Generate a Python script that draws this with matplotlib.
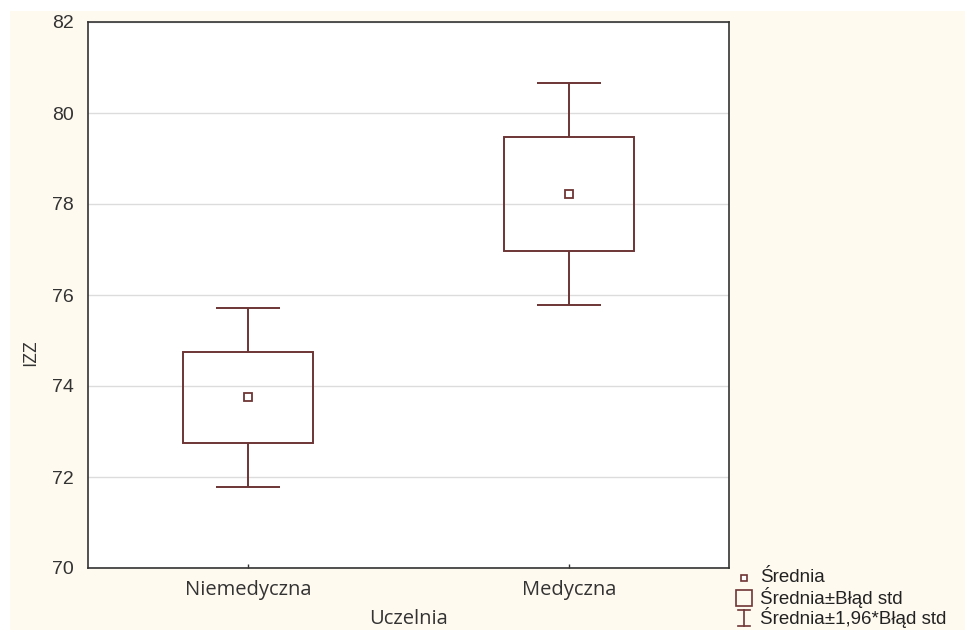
import matplotlib
matplotlib.use("Agg")
import matplotlib.pyplot as plt
from matplotlib.patches import Rectangle
from matplotlib.lines import Line2D

categories = ["Niemedyczna", "Medyczna"]
means = [73.75, 78.22]
se = [1.0, 1.25]
y_ticks = [70, 72, 74, 76, 78, 80, 82]
legend_labels = ["Średnia", "Średnia±Błąd std", "Średnia±1,96*Błąd std"]

plt.rcParams['font.family'] = ['Liberation Sans', 'DejaVu Sans']
col = '#6e3535'
txtcol = '#333333'
W, H = 965, 630
fig = plt.figure(figsize=(9.65, 6.3), dpi=100, facecolor='white')
# cream background
fig.patches.append(Rectangle((10 / W, 0), 1 - 10 / W, 1 - 11 / H, transform=fig.transFigure,
                             facecolor='#fffaf0', edgecolor='none', zorder=-10))

ax = fig.add_axes([88 / W, 1 - 568 / H, (729 - 88) / W, (568 - 22) / H])
ax.set_facecolor('white')
x = [1, 2]
ax.set_xlim(0.5, 2.5)
ax.set_ylim(70, 82)
ax.set_yticks(y_ticks)
ax.set_xticks(x)
ax.set_xticklabels(categories, fontfamily=['Open Sans', 'DejaVu Sans'], fontsize=14.5)
ax.yaxis.grid(True, color='#dcdcdc', lw=1)
ax.set_axisbelow(True)
for s in ax.spines.values():
    s.set_color('#333333')
    s.set_linewidth(1.2)
ax.tick_params(axis='y', length=0, labelsize=14, colors=txtcol, pad=10)
ax.tick_params(axis='x', direction='in', length=3, width=1, colors='#333333', labelcolor=txtcol, pad=9)

box_w = 0.405
cap_w = 0.2
lo = [m - s for m, s in zip(means, se)]
ax.bar(x, [2 * s for s in se], bottom=lo, width=box_w, fill=False, edgecolor=col, linewidth=1.4, zorder=3)
ax.vlines(x, [m + s for m, s in zip(means, se)], [m + 1.96 * s for m, s in zip(means, se)], color=col, lw=1.4, zorder=3)
ax.vlines(x, [m - s for m, s in zip(means, se)], [m - 1.96 * s for m, s in zip(means, se)], color=col, lw=1.4, zorder=3)
ax.hlines([m + 1.96 * s for m, s in zip(means, se)], [xi - cap_w / 2 for xi in x], [xi + cap_w / 2 for xi in x], color=col, lw=1.4, zorder=3)
ax.hlines([m - 1.96 * s for m, s in zip(means, se)], [xi - cap_w / 2 for xi in x], [xi + cap_w / 2 for xi in x], color=col, lw=1.4, zorder=3)
ax.plot(x, means, ls='none', marker='s', ms=6, mfc='white', mec=col, mew=1.3, zorder=4)

ax.set_xlabel("Uczelnia", fontsize=14.5, fontfamily=['Open Sans', 'DejaVu Sans'], color=txtcol, labelpad=6)
fig.text(30 / W, 1 - 353 / H, "IZZ", rotation=90, ha='center', va='center', fontsize=13.5,
         family=['Open Sans', 'DejaVu Sans'], color=txtcol)

# legend
tx = 760 / W
ys = [578, 598, 618]
fs = 13.5
for lab, yy in zip(legend_labels, ys):
    fig.text(tx, 1 - yy / H, lab, ha='left', va='center', fontsize=fs, color='#222222')
fig.add_artist(Line2D([744 / W], [1 - ys[0] / H], marker='s', ms=5, mfc='white', mec=col, mew=1.2, transform=fig.transFigure))
fig.add_artist(Rectangle((736 / W, 1 - (ys[1] + 8) / H), 16 / W, 16 / H, fill=False, edgecolor=col, lw=1.2, transform=fig.transFigure))
fig.add_artist(Line2D([744 / W, 744 / W], [1 - (ys[2] - 8) / H, 1 - (ys[2] + 8) / H], color=col, lw=1.2, transform=fig.transFigure))
fig.add_artist(Line2D([738 / W, 750 / W], [1 - (ys[2] - 8) / H] * 2, color=col, lw=1.2, transform=fig.transFigure))
fig.add_artist(Line2D([738 / W, 750 / W], [1 - (ys[2] + 8) / H] * 2, color=col, lw=1.2, transform=fig.transFigure))

fig.savefig("out.png", dpi=100, facecolor='white')
